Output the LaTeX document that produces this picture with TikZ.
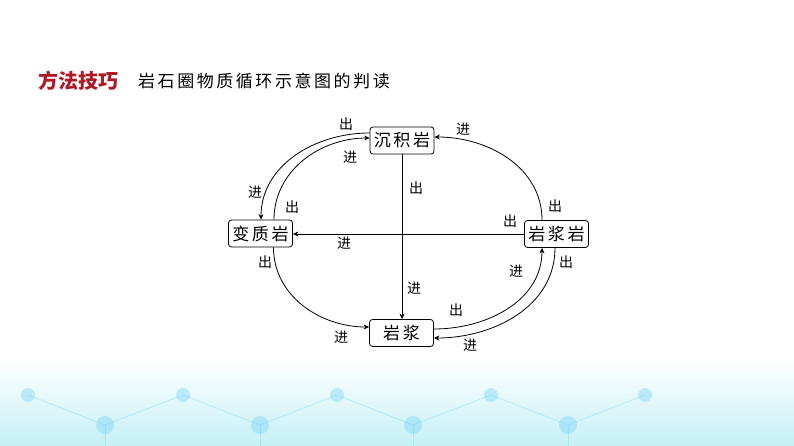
\documentclass[tikz,border=0pt]{standalone}
\usepackage{fontspec}
\setmainfont{Noto Sans CJK SC}
\newfontfamily\cjksp[LetterSpace=15]{Noto Sans CJK SC}
\usetikzlibrary{arrows.meta}
\definecolor{titlered}{RGB}{178,24,36}
\definecolor{bgcyan}{RGB}{196,240,246}
\tikzset{
  rock/.style={draw,rounded corners=3pt,line width=0.8pt,minimum width=64pt,minimum height=27pt,inner sep=0pt,font=\cjksp\fontsize{17}{20}\selectfont},
  lab/.style={inner sep=0pt,font=\fontsize{14}{16}\selectfont},
  arr/.style={line width=0.8pt,-{Stealth[length=5.5pt,width=5pt]}}
}
\begin{document}
\begin{tikzpicture}[x=1pt,y=-1pt]
\useasboundingbox[fill=white] (0,0) rectangle (794,446);
% background band
\shade[top color=white,bottom color=bgcyan] (0,360) rectangle (794,446);
\begin{scope}[cyan!60,opacity=0.35,line width=0.8pt]
\foreach \x in {28,183,337,491,645}
  \fill (\x,395) circle (7);
\foreach \x in {105,260,413,568}
  \fill (\x,425) circle (9);
\draw (28,395)--(105,425)--(183,395)--(260,425)--(337,395)--(413,425)--(491,395)--(568,425)--(645,395);
\foreach \x in {105,260,413,568}
  \draw (\x,425)--(\x,446);
\end{scope}
% title
\node[anchor=west,inner sep=0pt,text=titlered,font=\bfseries\fontsize{20}{22}\selectfont] (tt) at (38,81) {方法技巧};
\node[anchor=west,inner sep=0pt,font=\cjksp\fontsize{17}{20}\selectfont] (st) at (138,81) {岩石圈物质循环示意图的判读};
% rocks
\node[rock] (cj) at (402,140.5) {沉积岩};
\node[rock] (bz) at (260.5,233.5) {变质岩};
\node[rock] (yjy) at (556.5,234) {岩浆岩};
\node[rock] (yj) at (401.5,333) {岩浆};
% connectors
\draw[arr] (cj.south) -- (cj.south |- yj.north);
\draw[arr] (yjy.west) -- (yjy.west -| bz.east);
\draw[arr] ([xshift=-14.5pt]yjy.north) to[out=90,in=0] ([yshift=3.5pt]cj.east);
\draw[arr] ([yshift=7.5pt]cj.west) to[out=180,in=90] ([xshift=0.5pt]bz.north);
\draw[arr] ([xshift=13.5pt]bz.north) to[out=90,in=180] ([yshift=2.5pt]cj.west);
\draw[arr] ([xshift=13pt]bz.south) to[out=-90,in=180] ([yshift=6pt]yj.west);
\draw[arr] ([yshift=4pt]yj.east) to[out=0,in=-90] ([xshift=-14.5pt]yjy.south);
\draw[arr] ([xshift=-1.5pt]yjy.south) to[out=-90,in=0] ([yshift=-5pt]yj.east);
% labels
\foreach \px/\py/\t [count=\i] in {416/188/出,414/288/进,510/221/出,344/243/进,463/129/进,555/206/出,346/124/出,350/157/进,255/192/进,292/207/出,265/262/出,341/337/进,456/310/出,516/271/进,566/262/出,470/345/进}
  \node[lab] (lab\i) at (\px,\py) {\t};
\end{tikzpicture}
\end{document}
